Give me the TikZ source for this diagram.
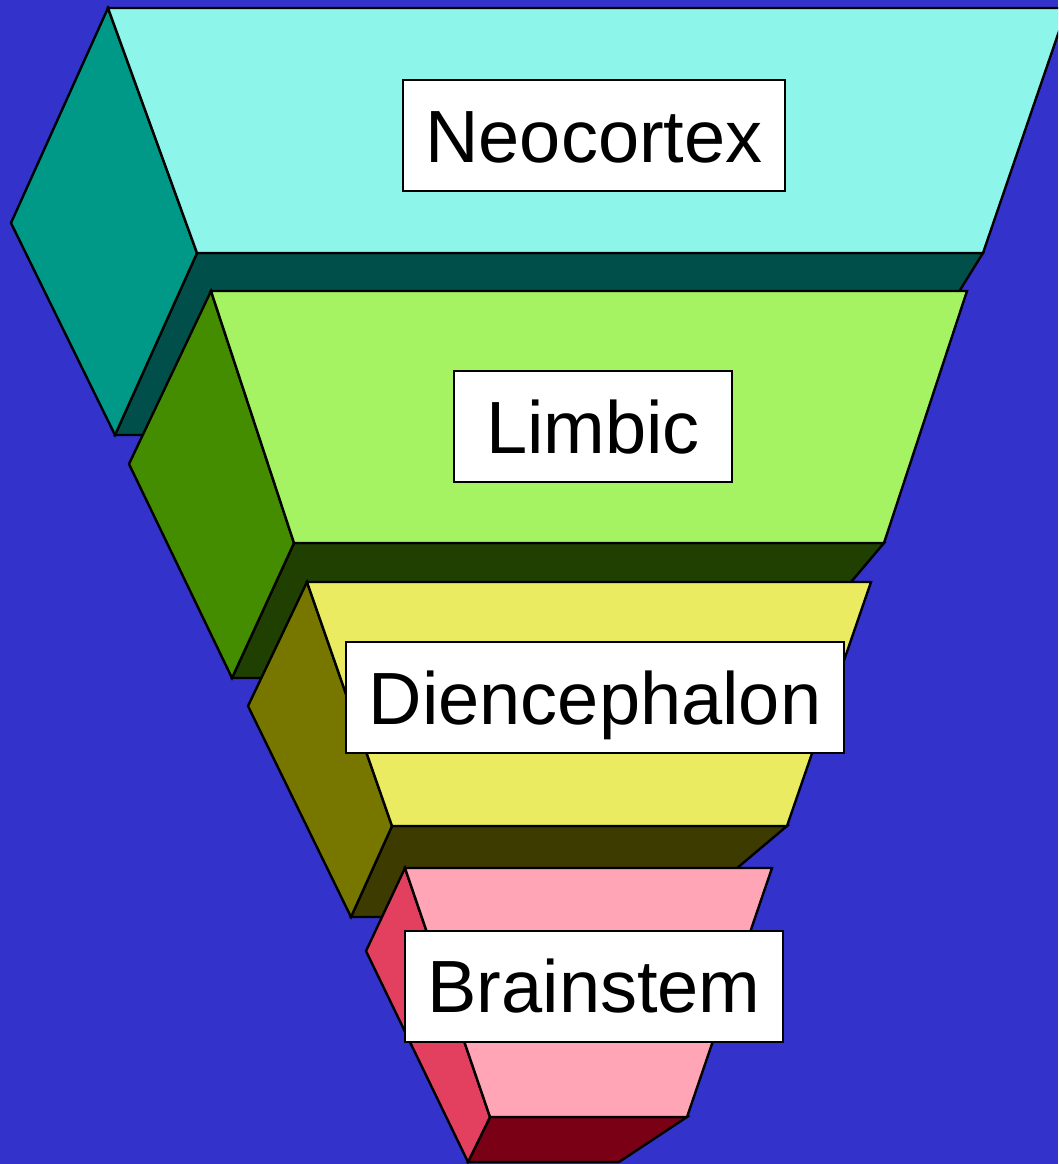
\documentclass[tikz,border=0pt]{standalone}
\usepackage{fontspec}
\setmainfont{Liberation Sans}
\definecolor{bg}{HTML}{3333CC}
\definecolor{neoF}{HTML}{8EF5EA}
\definecolor{neoS}{HTML}{009988}
\definecolor{neoB}{HTML}{004F4A}
\definecolor{limF}{HTML}{A5F362}
\definecolor{limS}{HTML}{448C00}
\definecolor{limB}{HTML}{1F4000}
\definecolor{dieF}{HTML}{EAEB60}
\definecolor{dieS}{HTML}{777700}
\definecolor{dieB}{HTML}{3D3B00}
\definecolor{braF}{HTML}{FFA5B5}
\definecolor{braS}{HTML}{E34060}
\definecolor{braB}{HTML}{7A0015}
\tikzset{
  face/.style={draw=black, line width=2.4pt, line join=miter},
  labelbox/.style={draw=black, fill=white, line width=2pt, inner sep=0pt,
    minimum height=111pt, text height=53pt, text depth=0pt,
    font=\fontsize{74}{80}\selectfont}
}
\begin{document}
\begin{tikzpicture}[x=1pt,y=-1pt]
\useasboundingbox (0,0) rectangle (1058,1164);
\fill[bg] (0,0) rectangle (1058,1164);
\clip (0,0) rectangle (1058,1164);
% Neocortex layer
\filldraw[face, fill=neoB] (197,253) -- (983,253) -- (870,435) -- (115,435) -- cycle;
\filldraw[face, fill=neoS] (108,8) -- (11,223) -- (115,435) -- (197,253) -- cycle;
\filldraw[face, fill=neoF] (108,8) -- (1067,8) -- (983,253) -- (197,253) -- cycle;
% Limbic layer
\filldraw[face, fill=limB] (294,543) -- (884,543) -- (770,678) -- (232,678) -- cycle;
\filldraw[face, fill=limS] (211,291) -- (129,464) -- (232,678) -- (294,543) -- cycle;
\filldraw[face, fill=limF] (211,291) -- (967,291) -- (884,543) -- (294,543) -- cycle;
% Diencephalon layer
\filldraw[face, fill=dieB] (392,826) -- (787,826) -- (679,917) -- (351,917) -- cycle;
\filldraw[face, fill=dieS] (307,582) -- (248,706) -- (351,917) -- (392,826) -- cycle;
\filldraw[face, fill=dieF] (307,582) -- (871,582) -- (787,826) -- (392,826) -- cycle;
% Brainstem layer
\filldraw[face, fill=braB] (490,1117) -- (687,1117) -- (619,1162) -- (468,1162) -- cycle;
\filldraw[face, fill=braS] (405,868) -- (366,951) -- (468,1162) -- (490,1117) -- cycle;
\filldraw[face, fill=braF] (405,868) -- (772,868) -- (687,1117) -- (490,1117) -- cycle;
% Labels
\node[labelbox, minimum width=382pt] (neo) at (594,135.5) {Neocortex};
\node[labelbox, minimum width=278pt] (lim) at (593,426.5) {Limbic};
\node[labelbox, minimum width=498pt] (die) at (595,697.5) {Diencephalon};
\node[labelbox, minimum width=378pt] (bra) at (594,986) {Brainstem};
\end{tikzpicture}
\end{document}
